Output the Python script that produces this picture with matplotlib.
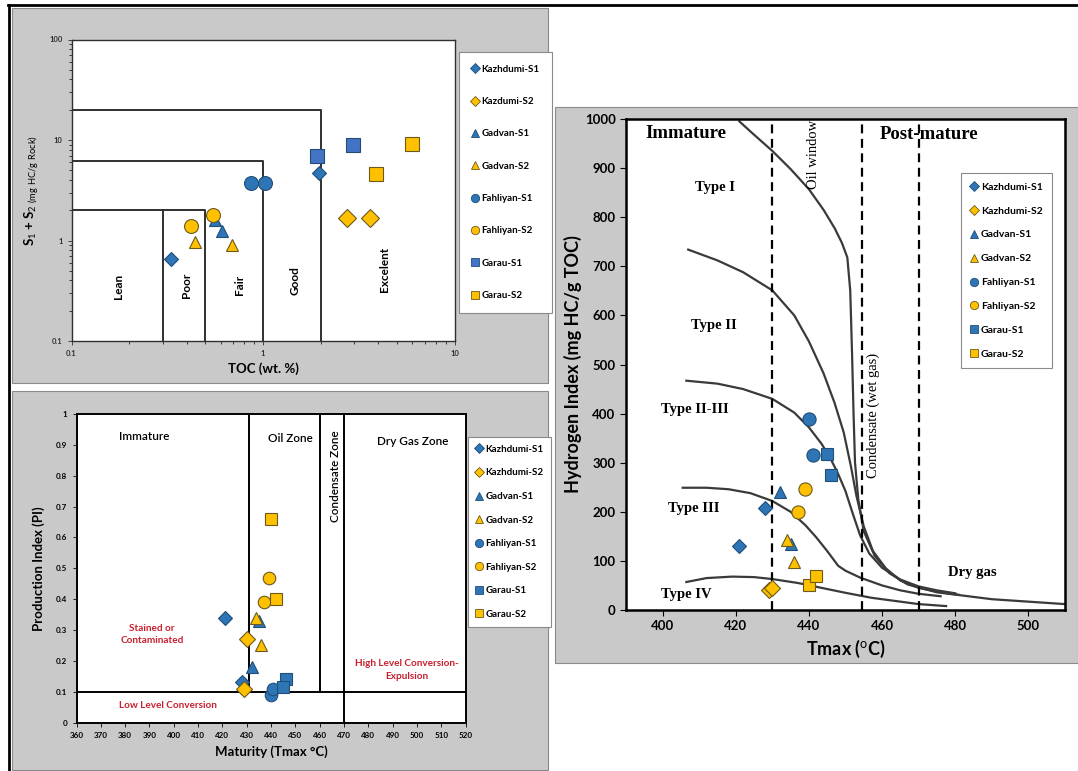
import numpy as np
import matplotlib
matplotlib.use('Agg')
import matplotlib.pyplot as plt
from matplotlib.patches import Rectangle
from matplotlib.lines import Line2D
from matplotlib.ticker import FixedLocator, FuncFormatter, MultipleLocator

plt.rcParams['font.family'] = ['Lato', 'DejaVu Sans']
plt.rcParams['mathtext.fontset'] = 'custom'
plt.rcParams['mathtext.rm'] = 'Lato'
plt.rcParams['mathtext.bf'] = 'Lato:bold'

# ---- series definitions ----
names_top = ['Kazhdumi-S1', 'Kazdumi-S2', 'Gadvan-S1', 'Gadvan-S2',
             'Fahliyan-S1', 'Fahliyan-S2', 'Garau-S1', 'Garau-S2']
names = ['Kazhdumi-S1', 'Kazhdumi-S2', 'Gadvan-S1', 'Gadvan-S2',
         'Fahliyan-S1', 'Fahliyan-S2', 'Garau-S1', 'Garau-S2']
markers = ['D', 'D', '^', '^', 'o', 'o', 's', 's']
blue = '#2E75B6'
yellow = '#FFC000'
colors = [blue, yellow, blue, yellow, blue, yellow, blue, yellow]

# ---- panel 1: TOC vs S1+S2 ----
toc = [[0.33, 1.96], [2.75, 3.6], [0.56, 0.61], [0.44, 0.69],
       [0.87, 1.03], [0.42, 0.55], [1.92, 2.95], [3.88, 6.0]]
s1s2 = [[0.65, 4.7], [1.66, 1.66], [1.6, 1.23], [0.96, 0.90],
        [3.7, 3.7], [1.40, 1.81], [6.9, 8.95], [4.6, 9.2]]

# ---- panel 2: Tmax vs PI ----
tmax_pi = [[421, 428], [430, 429], [432, 435], [434, 436],
           [440, 441], [439, 437], [446, 445], [440, 442]]
pi = [[0.34, 0.13], [0.27, 0.11], [0.18, 0.33], [0.34, 0.25],
      [0.09, 0.11], [0.47, 0.39], [0.14, 0.115], [0.66, 0.40]]

# ---- panel 3: Tmax vs HI ----
tmax_hi = [[421, 428], [429, 430], [432, 435], [434, 436],
           [440, 441], [439, 437], [445, 446], [440, 442]]
hi = [[130, 208], [40, 44], [241, 134], [143, 98],
      [389, 316], [246, 200], [318, 274], [51, 70]]

# kerogen type curves (Tmax, HI)
type1_t = [421, 425, 430, 435, 440, 444, 447, 449, 450.5, 451.3, 451.8, 452.2, 452.6, 453.5, 455, 458, 462, 467, 475, 490, 510]
type1_h = [995, 968, 935, 898, 857, 815, 778, 748, 718, 650, 520, 400, 300, 225, 160, 110, 75, 52, 36, 22, 12]
type2_t = [407, 415, 422, 430, 436, 440, 444, 447, 449.5, 451.5, 453, 455, 457.5, 461, 465, 470, 476, 481]
type2_h = [734, 712, 688, 651, 600, 547, 482, 422, 362, 292, 232, 170, 120, 85, 60, 45, 36, 31]
type23_t = [406.5, 415, 422, 430, 436, 440, 443.5, 446, 448, 450, 452, 454, 456.5, 460, 465, 470, 475, 480]
type23_h = [467, 461, 450, 430, 402, 372, 338, 307, 277, 242, 196, 152, 115, 86, 62, 48, 40, 34]
type3_t = [405.5, 412, 418, 424, 430, 435, 439, 442, 445, 448, 450, 454, 460, 465, 470, 476]
type3_h = [249, 249, 246, 238, 222, 200, 173, 148, 120, 90, 80, 66, 50, 40, 33, 28]
type4_t = [406.5, 412, 419, 425, 430, 437, 443.5, 450, 457, 464, 470, 477.5]
type4_h = [57, 65, 68, 67, 63, 55, 45, 35, 25, 18, 12, 8]

W, H = 1078, 771
fig = plt.figure(figsize=(W / 100, H / 100), dpi=100)


def rect(l, t, r, b):
    return [l / W, 1 - b / H, (r - l) / W, (b - t) / H]


# gray panel backgrounds and frame
for (l, t, r, b) in [(12, 8, 548, 383), (12, 391, 548, 770), (555, 107, 1078, 663)]:
    fig.patches.append(Rectangle((l / W, 1 - b / H), (r - l) / W, (b - t) / H,
                                 transform=fig.transFigure, facecolor='#c9c9c9',
                                 edgecolor='#8a8a8a', linewidth=0.8, zorder=-5))
fig.add_artist(Line2D([8 / W, 1], [1 - 5 / H, 1 - 5 / H], color='black', lw=2))
fig.add_artist(Line2D([9 / W, 9 / W], [0, 1 - 5 / H], color='black', lw=2))


def draw_points(ax, xs, ys, size_scale, first_color=None):
    for i in range(8):
        c = colors[i]
        if i == 6 and first_color is not None:
            c = first_color
        ms = size_scale[i]
        ec = '#1F4E79' if c != yellow else '#6b5a1e'
        ax.plot(xs[i], ys[i], linestyle='none', marker=markers[i], markersize=ms,
                markerfacecolor=c, markeredgecolor=ec, markeredgewidth=0.8, zorder=5)


def add_legend(ax, labels, anchor, fs, spacing, pad, first_color=None):
    handles = []
    for i in range(8):
        c = colors[i]
        if i == 6 and first_color is not None:
            c = first_color
        ec = '#1F4E79' if c != yellow else '#6b5a1e'
        ms = 5 if markers[i] == 'D' else 6
        handles.append(Line2D([], [], linestyle='none', marker=markers[i], markersize=ms,
                              markerfacecolor=c, markeredgecolor=ec, markeredgewidth=0.6))
    leg = ax.legend(handles, labels, loc='upper left',
                    bbox_to_anchor=(anchor[0] / W, 1 - anchor[1] / H),
                    bbox_transform=fig.transFigure, borderaxespad=0,
                    labelspacing=spacing, borderpad=pad,
                    handlelength=0.7, handletextpad=0.3, fancybox=False,
                    framealpha=1, edgecolor='#8a8a8a',
                    prop={'weight': 'bold', 'size': fs})
    leg.get_frame().set_linewidth(0.8)


# ================= panel 1 =================
ax1 = fig.add_axes(rect(71.5, 39.5, 454.5, 341))
ax1.set_xscale('log')
ax1.set_yscale('log')
ax1.set_xlim(0.1, 10)
ax1.set_ylim(0.1, 100)
box_c = '#303030'
ax1.plot([0.1, 2, 2], [20, 20, 0.1], color=box_c, lw=1.4)
ax1.plot([0.1, 1, 1], [6.2, 6.2, 0.1], color=box_c, lw=1.4)
ax1.plot([0.1, 0.5, 0.5], [2, 2, 0.1], color=box_c, lw=1.4)
ax1.plot([0.3, 0.3], [2, 0.1], color=box_c, lw=1.4)
for x, y, s in [(0.177, 0.35, 'Lean'), (0.40, 0.36, 'Poor'), (0.75, 0.36, 'Fair'),
                (1.47, 0.40, 'Good'), (4.3, 0.51, 'Excelent')]:
    ax1.text(x, y, s, rotation=90, ha='center', va='center', fontsize=8.5, fontweight='bold')
draw_points(ax1, toc, s1s2, [7.2, 9.4, 9, 9, 10, 10, 9.5, 9.5], first_color='#4472C4')
ax1.xaxis.set_major_formatter(FuncFormatter(lambda v, p: '%g' % v))
ax1.yaxis.set_major_formatter(FuncFormatter(lambda v, p: '%g' % v))
ax1.xaxis.set_minor_formatter(FuncFormatter(lambda v, p: ''))
ax1.yaxis.set_minor_formatter(FuncFormatter(lambda v, p: ''))
ax1.tick_params(which='major', labelsize=5.5, length=3, width=0.6, colors='#303030')
ax1.tick_params(which='minor', length=2, width=0.5)
for lab in ax1.get_xticklabels() + ax1.get_yticklabels():
    lab.set_fontweight('bold')
ax1.set_xlabel('TOC (wt. %)', fontsize=9.5, fontweight='bold', labelpad=4)
ax1.set_ylabel(r'S$_1$ + S$_2$$_{\mathrm{\ (mg\ HC/g\ Rock)}}$', fontsize=9.5,
               fontweight='bold', labelpad=6)
for sp in ax1.spines.values():
    sp.set_color('#303030')
    sp.set_linewidth(1)
add_legend(ax1, names_top, (459, 52), 7, 2.4, 1.3, first_color='#4472C4')

# ================= panel 2 =================
ax2 = fig.add_axes(rect(76.5, 414, 465.5, 722.5))
ax2.set_xlim(360, 520)
ax2.set_ylim(0, 1)
ax2.plot([431, 431], [0.1, 1], color='black', lw=1.4)
ax2.plot([460, 460], [0.1, 1], color='black', lw=1.4)
ax2.plot([470, 470], [0, 1], color='black', lw=1.4)
ax2.axhline(0.1, color='black', lw=1.4)
ax2.text(388, 0.928, 'Immature', ha='center', va='center', fontsize=8.5, fontweight='semibold')
ax2.text(448, 0.919, 'Oil Zone', ha='center', va='center', fontsize=8.5, fontweight='semibold')
ax2.text(466.4, 0.80, 'Condensate Zone', rotation=90, ha='center', va='center',
         fontsize=8.5, fontweight='semibold')
ax2.text(498.3, 0.91, 'Dry Gas Zone', ha='center', va='center', fontsize=8.5, fontweight='semibold')
red = '#C8202F'
ax2.text(391, 0.286, 'Stained or\nContaminated', ha='center', va='center', fontsize=7.2,
         fontweight='bold', color=red, linespacing=1.5)
ax2.text(397.5, 0.054, 'Low Level Conversion', ha='center', va='center', fontsize=7.2,
         fontweight='bold', color=red)
ax2.text(495.8, 0.17, 'High Level Conversion-\nExpulsion', ha='center', va='center',
         fontsize=7.2, fontweight='bold', color=red, linespacing=1.5)
draw_points(ax2, tmax_pi, pi, [7.5, 8, 9, 9, 9, 9, 8.8, 8.8])
ax2.xaxis.set_major_locator(MultipleLocator(10))
ax2.yaxis.set_major_locator(MultipleLocator(0.1))
ax2.yaxis.set_major_formatter(FuncFormatter(lambda v, p: '%g' % round(v, 1)))
ax2.tick_params(labelsize=5.8, length=3, width=0.6)
for lab in ax2.get_xticklabels() + ax2.get_yticklabels():
    lab.set_fontweight('bold')
ax2.set_xlabel('Maturity (Tmax °C)', fontsize=9.5, fontweight='bold', labelpad=5)
ax2.set_ylabel('Production Index (PI)', fontsize=9.5, fontweight='bold', labelpad=8)
for sp in ax2.spines.values():
    sp.set_linewidth(1.4)
add_legend(ax2, names, (468, 437), 7, 1.5, 0.8)

# ================= panel 3 =================
ax3 = fig.add_axes(rect(626, 119, 1065, 610))
ax3.set_xlim(390, 510)
ax3.set_ylim(0, 1000)
curve_c = '#3a3a3a'
for tx, hy in [(type1_t, type1_h), (type2_t, type2_h), (type23_t, type23_h),
               (type3_t, type3_h), (type4_t, type4_h)]:
    ax3.plot(tx, hy, color=curve_c, lw=1.6, zorder=2)
for xv in [430, 454.5, 470]:
    ax3.axvline(xv, color='black', lw=1.6, linestyle=(0, (4, 2.5)), zorder=3)
serif = ['Liberation Serif', 'DejaVu Serif']
ax3.text(406.4, 971, 'Immature', ha='center', va='center', fontsize=13.5,
         fontweight='bold', family=serif)
ax3.text(472.8, 969, 'Post-mature', ha='center', va='center', fontsize=13.5,
         fontweight='bold', family=serif)
ax3.text(441.2, 927, 'Oil window', rotation=90, ha='center', va='center', fontsize=10.5,
         family=serif)
ax3.text(457.6, 396, 'Condensate (wet gas)', rotation=90, ha='center', va='center',
         fontsize=10.5, family=serif)
for x, y, s in [(414.3, 860, 'Type I'), (413.9, 579, 'Type II'), (408.9, 408, 'Type II-III'),
                (408.4, 207, 'Type III'), (406.6, 31, 'Type IV'), (484.7, 77, 'Dry gas')]:
    ax3.text(x, y, s, ha='center', va='center', fontsize=10.5, fontweight='bold', family=serif)
draw_points(ax3, tmax_hi, hi, [7.5, 8, 9, 9, 9.5, 9.5, 9, 9])
ax3.xaxis.set_major_locator(MultipleLocator(20))
ax3.yaxis.set_major_locator(MultipleLocator(100))
ax3.tick_params(labelsize=9.5, length=4, width=0.8)
for lab in ax3.get_xticklabels() + ax3.get_yticklabels():
    lab.set_fontweight('bold')
ax3.set_xlabel(r'Tmax ($^{\mathrm{o}}$C)', fontsize=13, fontweight='bold', labelpad=4)
ax3.set_ylabel('Hydrogen Index (mg HC/g TOC)', fontsize=13, fontweight='bold', labelpad=2)
for sp in ax3.spines.values():
    sp.set_linewidth(1.8)
add_legend(ax3, names, (961, 173), 7.5, 1.4, 0.9)

plt.savefig('out.png', dpi=100)
